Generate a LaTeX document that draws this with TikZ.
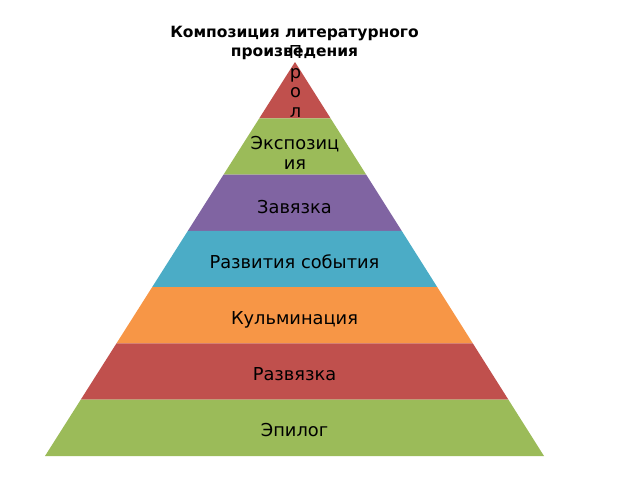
\documentclass[tikz,border=0pt]{standalone}
\usepackage{fontspec}
\setmainfont{DejaVu Sans}
\usepackage{tikz}
\usetikzlibrary{positioning, calc}

\definecolor{layerred}{HTML}{C0504D}
\definecolor{layergreen}{HTML}{9BBB59}
\definecolor{layerviolet}{HTML}{8064A2}
\definecolor{layerblue}{HTML}{4BACC6}
\definecolor{layerorange}{HTML}{F79646}

\begin{document}
\begin{tikzpicture}[x=1pt, y=-1pt, font=\fontsize{17.8}{19.8}\selectfont]
    \tikzstyle{layertext}=[text=black, align=center, inner sep=0pt]
    \tikzstyle{titletext}=[layertext, font=\bfseries\fontsize{15.5}{18.7}\selectfont]

    \useasboundingbox (0,0) rectangle (640,480);

    % Corners of the pyramid
    \coordinate (apex) at (295,62);
    \coordinate (bl) at (45,456);
    \coordinate (br) at (544,456);

    % Layers, top down
    \foreach \i/\col in {1/layerred, 2/layergreen, 3/layerviolet, 4/layerblue, 5/layerorange, 6/layerred, 7/layergreen} {
        \pgfmathsetmacro{\a}{(\i-1)/7}
        \pgfmathsetmacro{\b}{\i/7}
        \fill[\col] ($(apex)!\a!(bl)$) -- ($(apex)!\b!(bl)$) -- ($(apex)!\b!(br)$) -- ($(apex)!\a!(br)$) -- cycle;
    }

    % Title
    \node[titletext] (title) at (294.5,43) {Композиция литературного\\произведения};

    % Texts of the layers
    \node[layertext] (prolog) at (295.5,81.5) {П\\р\\о\\л};
    \node[layertext] (expo) at (295,152.5) {Экспозиц\\ия};
    \node[layertext, anchor=base] (zav) at (294.5,213) {Завязка};
    \node[layertext, anchor=base] (razv) at (294.5,268) {Развития события};
    \node[layertext, anchor=base] (kulm) at (294.5,324) {Кульминация};
    \node[layertext, anchor=base] (razvyaz) at (294.5,380) {Развязка};
    \node[layertext, anchor=base] (epil) at (294.5,436) {Эпилог};
\end{tikzpicture}
\end{document}
